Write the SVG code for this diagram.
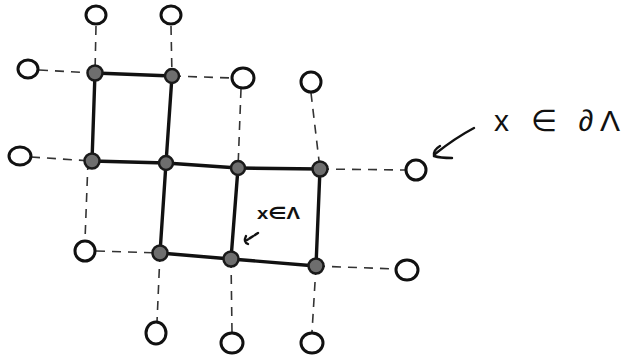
<svg xmlns="http://www.w3.org/2000/svg" width="621" height="358" viewBox="0 0 621 358">
<style>
.solid{stroke:#111;stroke-width:3.4;fill:none;stroke-linecap:round}
.dash{stroke:#333;stroke-width:1.6;fill:none;stroke-dasharray:9 7}
.site{fill:#6e6e6e;stroke:#1a1a1a;stroke-width:2.5}
.bnd{fill:#fff;stroke:#111;stroke-width:3}
.lbl{font-family:"Liberation Sans","DejaVu Sans",sans-serif;fill:#111}
.arr{stroke:#111;stroke-width:2.4;fill:none;stroke-linecap:round}
</style>
<rect width="621" height="358" fill="#fff"/>
<g id="connectors">
<path class="solid" d="M95 73 L172 76"/>
<path class="solid" d="M95 73 L92 161"/>
<path class="solid" d="M172 76 L166 163"/>
<path class="solid" d="M92 161 L166 163"/>
<path class="solid" d="M166 163 L238 168"/>
<path class="solid" d="M238 168 L320 169"/>
<path class="solid" d="M166 163 L160 253"/>
<path class="solid" d="M238 168 L231 259"/>
<path class="solid" d="M320 169 L316 266"/>
<path class="solid" d="M160 253 L231 259"/>
<path class="solid" d="M231 259 L316 266"/>
<path class="dash" d="M96 26 L95 73"/>
<path class="dash" d="M171 26 L172 76"/>
<path class="dash" d="M39 70 L95 73"/>
<path class="dash" d="M172 76 L232 78"/>
<path class="dash" d="M241 89 L238 168"/>
<path class="dash" d="M311 93 L320 169"/>
<path class="dash" d="M31 157 L92 161"/>
<path class="dash" d="M320 169 L405 170"/>
<path class="dash" d="M88 161 L85 240"/>
<path class="dash" d="M96 251 L160 253"/>
<path class="dash" d="M316 266 L396 269"/>
<path class="dash" d="M160 253 L157 322"/>
<path class="dash" d="M231 259 L232 332"/>
<path class="dash" d="M316 266 L312 332"/>
<path class="arr" d="M474 128 Q 455 138 435 154"/>
<path class="arr" d="M452 158 Q 440 158 434 156 Q 433 150 440 146"/>
<path class="arr" d="M258 233 L247 240" stroke-dasharray="4 2" stroke-width="1.8"/>
<path class="arr" d="M246 236 Q 243 242 248 244" stroke-width="1.8"/>
</g>
<g id="n_A"><circle class="site" cx="95" cy="73" r="7.5"/></g>
<g id="n_B"><circle class="site" cx="172" cy="76" r="7"/></g>
<g id="n_C"><circle class="site" cx="92" cy="161" r="7.5"/></g>
<g id="n_D"><circle class="site" cx="166" cy="163" r="7"/></g>
<g id="n_E"><circle class="site" cx="238" cy="168" r="7"/></g>
<g id="n_F"><circle class="site" cx="320" cy="169" r="7.5"/></g>
<g id="n_G"><circle class="site" cx="160" cy="253" r="7.5"/></g>
<g id="n_H"><circle class="site" cx="231" cy="259" r="7.5"/></g>
<g id="n_I"><circle class="site" cx="316" cy="266" r="7.5"/></g>
<g id="b_T1"><ellipse class="bnd" cx="96" cy="15" rx="10" ry="9"/></g>
<g id="b_T2"><ellipse class="bnd" cx="171" cy="15" rx="10" ry="9"/></g>
<g id="b_L1"><ellipse class="bnd" cx="28" cy="69" rx="10" ry="9"/></g>
<g id="b_R1"><ellipse class="bnd" cx="243" cy="78" rx="11" ry="10"/></g>
<g id="b_R2"><ellipse class="bnd" cx="311" cy="82" rx="10" ry="10"/></g>
<g id="b_L2"><ellipse class="bnd" cx="20" cy="156" rx="11" ry="9"/></g>
<g id="b_R3"><ellipse class="bnd" cx="416" cy="170" rx="10" ry="10"/></g>
<g id="b_L3"><ellipse class="bnd" cx="85" cy="251" rx="10" ry="10"/></g>
<g id="b_R4"><ellipse class="bnd" cx="407" cy="270" rx="11" ry="10"/></g>
<g id="b_B1"><ellipse class="bnd" cx="156" cy="333" rx="10" ry="11"/></g>
<g id="b_B2"><ellipse class="bnd" cx="232" cy="343" rx="11" ry="10"/></g>
<g id="b_B3"><ellipse class="bnd" cx="312" cy="343" rx="11" ry="10"/></g>
<g id="label_boundary"><text class="lbl" x="494" y="131" font-size="30" textLength="126" lengthAdjust="spacing">x ∈ ∂Λ</text></g>
<g id="label_interior"><text class="lbl" x="257" y="219" font-size="17" font-weight="bold" textLength="43" lengthAdjust="spacingAndGlyphs">x∈Λ</text></g>
</svg>
